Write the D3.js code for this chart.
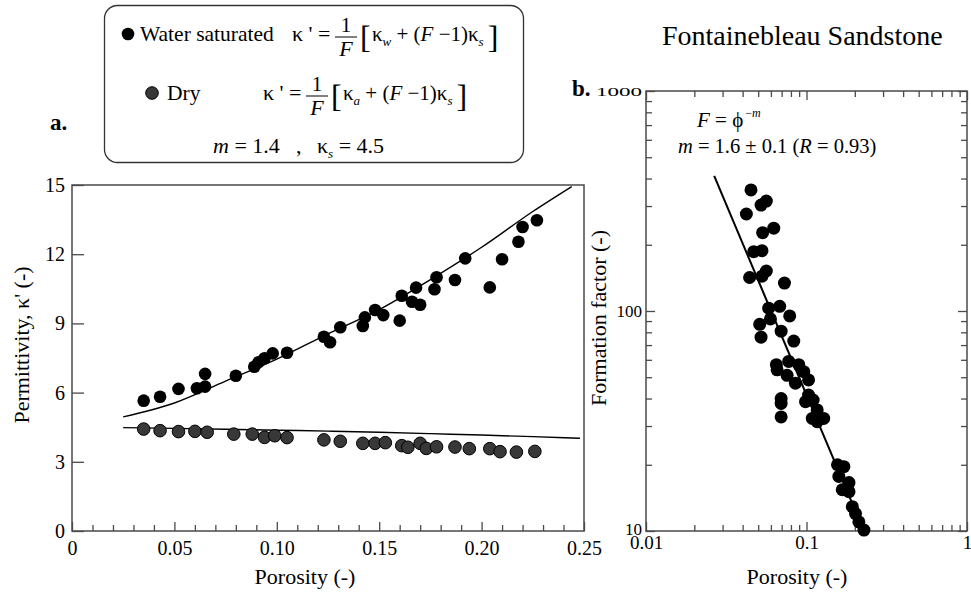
<!DOCTYPE html>
<html>
<head>
<meta charset="utf-8">
<script src="https://cdn.jsdelivr.net/npm/d3@7"></script>
</head>
<body style="margin:0;background:#fff;">
<svg id="fig" width="971" height="595" style="display:block"></svg>
<script>
// ---------- Panel a data ----------
const satPorosity = [0.035,0.043,0.052,0.061,0.065,0.065,0.080,0.089,0.091,0.094,0.098,0.105,0.123,0.126,0.131,0.142,0.143,0.148,0.152,0.160,0.161,0.166,0.170,0.168,0.177,0.178,0.187,0.192,0.204,0.210,0.218,0.220,0.227];
const satPerm = [5.65,5.82,6.16,6.19,6.26,6.81,6.73,7.12,7.31,7.49,7.70,7.73,8.42,8.18,8.83,8.89,9.26,9.58,9.36,9.12,10.2,9.94,9.81,10.55,10.48,11.0,10.88,11.82,10.56,11.78,12.54,13.18,13.47];
const dryPorosity = [0.035,0.043,0.052,0.060,0.066,0.079,0.088,0.094,0.099,0.105,0.123,0.131,0.142,0.148,0.153,0.161,0.164,0.170,0.173,0.178,0.187,0.194,0.204,0.209,0.217,0.226];
const dryPerm = [4.42,4.35,4.31,4.32,4.28,4.20,4.20,4.06,4.13,4.05,3.95,3.89,3.80,3.80,3.83,3.70,3.63,3.80,3.58,3.65,3.64,3.57,3.57,3.44,3.42,3.45];
const satCurvePorosity = [0.025,0.05,0.075,0.10,0.125,0.15,0.175,0.20,0.225,0.244];
const satCurvePerm = [4.95,5.55,6.5,7.45,8.55,9.6,10.9,12.3,13.85,14.93];
const dryCurvePorosity = [0.025,0.05,0.075,0.10,0.125,0.15,0.175,0.20,0.225,0.248];
const dryCurvePerm = [4.48,4.45,4.41,4.37,4.33,4.28,4.22,4.16,4.09,4.02];
const aXTicks = [0,0.05,0.10,0.15,0.20,0.25];
const aXTickLabels = ["0","0.05","0.10","0.15","0.20","0.25"];
const aYTicks = [0,3,6,9,12,15];

// ---------- Panel b data ----------
const ffPorosity = [0.0451,0.0562,0.0521,0.0422,0.0533,0.0625,0.0469,0.0528,0.0442,0.0562,0.0528,0.0729,0.0581,0.0681,0.0786,0.0596,0.0511,0.0695,0.0521,0.0833,0.0649,0.0775,0.0895,0.0656,0.0757,0.0853,0.0962,0.103,0.0695,0.0695,0.0695,0.0986,0.103,0.110,0.1166,0.1086,0.128,0.1166,0.156,0.171,0.159,0.184,0.167,0.184,0.193,0.202,0.212,0.228];
const ffFactor = [355,316,303,276,227,238,186,188,142,152,144,134,103,105,95,92,87,81,76,73,57,59,57,54,51,47,53,48.6,40,38,33,38.7,41.5,39.4,35.5,32.5,32.5,31.4,20,19.6,17.7,16.6,15.4,15.1,12.9,12.0,11.0,10.1];
const fitPorosity = [0.0266,0.224];
const fitFactor = [411,10.3];
const bXTicks = [0.01,0.1,1];
const bXTickLabels = ["0.01","0.1","1"];
const bYTicks = [10,100,1000];
const bYTickLabels = ["10","100","1000"];

const FONT = "Liberation Serif";
const svg = d3.select("#fig");
const frameColor = "#4a4a4a";
function T(sel){ return sel.style("font-family",FONT).attr("fill","#000"); }
function styleTicks(g){g.attr("font-family",null); g.select(".domain").remove();g.selectAll("line").attr("stroke",frameColor).attr("stroke-width",1.3);}

// ================= Panel a =================
const xa = d3.scaleLinear().domain([0,0.25]).range([72,584]);
const ya = d3.scaleLinear().domain([0,15]).range([531,185]);
const ga = svg.append("g");
ga.append("rect").attr("x",72).attr("y",185).attr("width",512).attr("height",346)
  .attr("fill","none").attr("stroke",frameColor).attr("stroke-width",1.5);

const minorA = d3.range(1,25).map(d=>d/100).filter(d=>Math.abs(d*20-Math.round(d*20))>1e-6);
ga.append("g").attr("transform","translate(0,531)")
  .call(d3.axisBottom(xa).tickValues(minorA).tickSizeInner(-6).tickSizeOuter(0).tickFormat(""))
  .call(styleTicks);
ga.append("g").attr("transform","translate(0,531)")
  .call(d3.axisBottom(xa).tickValues(aXTicks).tickSizeInner(-9).tickSizeOuter(0).tickPadding(10)
        .tickFormat((d,i)=>aXTickLabels[i]))
  .call(styleTicks)
  .call(g=>T(g.selectAll("text")).attr("font-size",20));
ga.append("g").attr("transform","translate(72,0)")
  .call(d3.axisLeft(ya).tickValues(aYTicks).tickSizeInner(-12).tickSizeOuter(0).tickPadding(7).tickFormat(d3.format("d")))
  .call(styleTicks)
  .call(g=>T(g.selectAll("text")).attr("font-size",20));

const lineA = d3.line().x(d=>xa(d[0])).y(d=>ya(d[1])).curve(d3.curveMonotoneX);
ga.append("path").datum(satCurvePorosity.map((p,i)=>[p,satCurvePerm[i]]))
  .attr("d",lineA).attr("fill","none").attr("stroke","#000").attr("stroke-width",1.4);
ga.append("path").datum(dryCurvePorosity.map((p,i)=>[p,dryCurvePerm[i]]))
  .attr("d",lineA).attr("fill","none").attr("stroke","#000").attr("stroke-width",1.4);

ga.append("g").selectAll("circle").data(dryPorosity.map((p,i)=>[p,dryPerm[i]])).join("circle")
  .attr("cx",d=>xa(d[0])).attr("cy",d=>ya(d[1])).attr("r",6.3)
  .attr("fill","#383838").attr("stroke","#000").attr("stroke-width",1);
ga.append("g").selectAll("circle").data(satPorosity.map((p,i)=>[p,satPerm[i]])).join("circle")
  .attr("cx",d=>xa(d[0])).attr("cy",d=>ya(d[1])).attr("r",6.3).attr("fill","#000");

T(svg.append("text")).attr("x",305).attr("y",584).attr("text-anchor","middle")
  .attr("font-size",22).text("Porosity (-)");
T(svg.append("text")).attr("transform","translate(29,345) rotate(-90)").attr("text-anchor","middle")
  .attr("font-size",22).text("Permittivity, κ' (-)");
T(svg.append("text")).attr("x",50).attr("y",130).attr("font-size",23).attr("font-weight","bold").text("a.");

// ================= Panel b =================
const xb = d3.scaleLog().domain([0.01,1]).range([646,967]);
const yb = d3.scaleLog().domain([10,1000]).range([531,91]);
const gb = svg.append("g");
gb.append("rect").attr("x",646).attr("y",91).attr("width",321).attr("height",440)
  .attr("fill","none").attr("stroke",frameColor).attr("stroke-width",1.5);

const logMinor = [];
[0.01,0.1].forEach(b=>{for(let k=2;k<=9;k++) logMinor.push(b*k);});
const logMinorY = [];
[10,100].forEach(b=>{for(let k=2;k<=9;k++) logMinorY.push(b*k);});

gb.append("g").attr("transform","translate(0,531)")
  .call(d3.axisBottom(xb).tickValues(logMinor).tickSizeInner(-6).tickSizeOuter(0).tickFormat("")).call(styleTicks);
gb.append("g").attr("transform","translate(0,531)")
  .call(d3.axisBottom(xb).tickValues(bXTicks).tickSizeInner(-9).tickSizeOuter(0).tickPadding(5)
        .tickFormat((d,i)=>bXTickLabels[i]))
  .call(styleTicks)
  .call(g=>T(g.selectAll("text")).attr("font-size",19));
gb.append("g").attr("transform","translate(0,91)")
  .call(d3.axisTop(xb).tickValues(logMinor).tickSizeInner(-6).tickSizeOuter(0).tickFormat("")).call(styleTicks);
gb.append("g").attr("transform","translate(0,91)")
  .call(d3.axisTop(xb).tickValues(bXTicks).tickSizeInner(-9).tickSizeOuter(0).tickFormat("")).call(styleTicks);
gb.append("g").attr("transform","translate(646,0)")
  .call(d3.axisLeft(yb).tickValues(logMinorY).tickSizeInner(-6).tickSizeOuter(0).tickFormat("")).call(styleTicks);
gb.append("g").attr("transform","translate(646,0)")
  .call(d3.axisLeft(yb).tickValues(bYTicks).tickSizeInner(-9).tickSizeOuter(0).tickPadding(4)
        .tickFormat((d,i)=>bYTickLabels[i]))
  .call(styleTicks)
  .call(g=>T(g.selectAll("text")).attr("font-size",17)
        .each(function(d){
          if(d===1000){ d3.select(this).attr("font-size",12.5).attr("textLength",46).attr("lengthAdjust","spacingAndGlyphs"); }
          if(d===10){ d3.select(this).attr("dy","0.2em"); }
        }));
gb.append("g").attr("transform","translate(967,0)")
  .call(d3.axisRight(yb).tickValues(logMinorY).tickSizeInner(-6).tickSizeOuter(0).tickFormat("")).call(styleTicks);
gb.append("g").attr("transform","translate(967,0)")
  .call(d3.axisRight(yb).tickValues(bYTicks).tickSizeInner(-9).tickSizeOuter(0).tickFormat("")).call(styleTicks);

gb.append("path").datum(fitPorosity.map((p,i)=>[p,fitFactor[i]]))
  .attr("d",d3.line().x(d=>xb(d[0])).y(d=>yb(d[1])))
  .attr("fill","none").attr("stroke","#000").attr("stroke-width",2);
gb.append("g").selectAll("circle").data(ffPorosity.map((p,i)=>[p,ffFactor[i]])).join("circle")
  .attr("cx",d=>xb(d[0])).attr("cy",d=>yb(d[1])).attr("r",6.5).attr("fill","#000");

T(svg.append("text")).attr("x",797).attr("y",584).attr("text-anchor","middle")
  .attr("font-size",22).text("Porosity (-)");
T(svg.append("text")).attr("transform","translate(606,318) rotate(-90)").attr("text-anchor","middle")
  .attr("font-size",22).text("Formation factor (-)");
T(svg.append("text")).attr("x",572).attr("y",96).attr("font-size",23).attr("font-weight","bold").text("b.");
T(svg.append("text")).attr("x",662).attr("y",45).attr("font-size",28).text("Fontainebleau Sandstone");

const t1 = T(svg.append("text")).attr("x",697).attr("y",127).attr("font-size",21);
t1.append("tspan").attr("font-style","italic").text("F");
t1.append("tspan").text(" = ϕ");
t1.append("tspan").attr("font-size",12).attr("dy",-10).attr("dx",2).text("−");
t1.append("tspan").attr("font-size",12).attr("font-style","italic").text("m");
const t2 = T(svg.append("text")).attr("x",678).attr("y",153).attr("font-size",20.5);
t2.append("tspan").attr("font-style","italic").text("m");
t2.append("tspan").text(" = 1.6 ± 0.1 (");
t2.append("tspan").attr("font-style","italic").text("R");
t2.append("tspan").text(" = 0.93)");

// ================= Legend box =================
const lg = svg.append("g");
lg.append("rect").attr("x",104.5).attr("y",5.5).attr("width",419).attr("height",157).attr("rx",13)
  .attr("fill","#fff").attr("stroke","#333").attr("stroke-width",1.3);
lg.append("circle").attr("cx",128).attr("cy",34).attr("r",6.3).attr("fill","#000");
lg.append("circle").attr("cx",152).attr("cy",93).attr("r",6.3).attr("fill","#383838").attr("stroke","#000");
T(lg.append("text")).attr("x",140).attr("y",41).attr("font-size",21.5).text("Water saturated");
T(lg.append("text")).attr("x",167).attr("y",100).attr("font-size",21.5).text("Dry");

function formula(x0, base, sub){
  T(lg.append("text")).attr("x",x0).attr("y",base).attr("font-size",22).text("κ ' =");
  const cx = x0 + 54;
  T(lg.append("text")).attr("x",cx).attr("y",base-9).attr("font-size",21).attr("text-anchor","middle").text("1");
  lg.append("line").attr("x1",cx-11).attr("x2",cx+11).attr("y1",base-4).attr("y2",base-4).attr("stroke","#000").attr("stroke-width",1);
  T(lg.append("text")).attr("x",cx).attr("y",base+15).attr("font-size",22).attr("font-style","italic").attr("text-anchor","middle").text("F");
  T(lg.append("text")).attr("x",cx+14).attr("y",base+7).attr("font-size",32).text("[");
  const t = T(lg.append("text")).attr("x",cx+26).attr("y",base).attr("font-size",21);
  t.append("tspan").text("κ");
  t.append("tspan").attr("font-size",13).attr("font-style","italic").attr("dy",5).text(sub);
  t.append("tspan").attr("dy",-5).text(" + (");
  t.append("tspan").attr("font-style","italic").text("F");
  t.append("tspan").text(" −1)κ");
  t.append("tspan").attr("font-size",13).attr("font-style","italic").attr("dy",5).text("s");
  const bb = t.node().getComputedTextLength();
  T(lg.append("text")).attr("x",cx+26+bb+4).attr("y",base+7).attr("font-size",32).text("]");
}
formula(292, 41, "w");
formula(263, 100, "a");

const t3 = T(lg.append("text")).attr("x",213).attr("y",153).attr("font-size",22);
t3.append("tspan").attr("font-style","italic").text("m");
t3.append("tspan").text(" = 1.4");
T(lg.append("text")).attr("x",296).attr("y",153).attr("font-size",22).text(",");
const t4 = T(lg.append("text")).attr("x",317).attr("y",153).attr("font-size",22);
t4.append("tspan").text("κ");
t4.append("tspan").attr("font-size",13).attr("font-style","italic").attr("dy",5).text("s");
t4.append("tspan").attr("dy",-5).text(" = 4.5");
</script>
</body>
</html>
